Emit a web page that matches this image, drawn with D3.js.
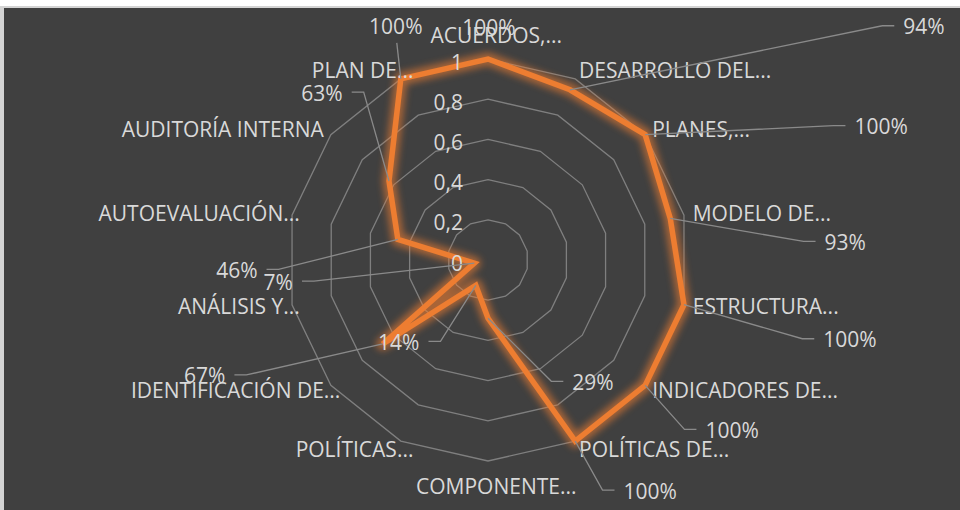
<!DOCTYPE html>
<html>
<head>
<meta charset="utf-8">
<script src="https://cdn.jsdelivr.net/npm/d3@7"></script>
<style>
body { margin: 0; background: #fff; }
svg { display: block; font-family: "Open Sans", sans-serif; }
</style>
</head>
<body>
<svg id="chart"></svg>
<script>
const categories = ["ACUERDOS,...", "DESARROLLO DEL...", "PLANES,...", "MODELO DE...", "ESTRUCTURA...",
    "INDICADORES DE...", "POLÍTICAS DE...", "COMPONENTE...", "POLÍTICAS...", "IDENTIFICACIÓN DE...",
    "ANÁLISIS Y...", "AUTOEVALUACIÓN...", "AUDITORÍA INTERNA", "PLAN DE..."];
const values = [1, 0.94, 1, 0.93, 1, 1, 1, 0.29, 0.14, 0.67, 0.07, 0.46, 0.63, 1];
const ticks = [0, 0.2, 0.4, 0.6, 0.8, 1];
const tickLabels = ["0", "0,2", "0,4", "0,6", "0,8", "1"];

// data labels were dragged by hand in the original, so keep their offsets from the point
const labelOffsets = [
    {dx: 1, dy: -32, leader: "none"},
    {dx: 354, dy: -63, leader: "left"},
    {dx: 236, dy: -8, leader: "left"},
    {dx: 175, dy: 24, leader: "left"},
    {dx: 166, dy: 35, leader: "left"},
    {dx: 87, dy: 45, leader: "left"},
    {dx: 75, dy: 50, leader: "left"},
    {dx: 105, dy: 64, leader: "left"},
    {dx: -77, dy: 57, leader: "right"},
    {dx: -178, dy: 32, leader: "right"},
    {dx: -196, dy: 19, leader: "right"},
    {dx: -161, dy: 31, leader: "right"},
    {dx: -67, dy: -88, leader: "right"},
    {dx: -5, dy: -52, leader: "bottom"}
];

class RadarChart {
    constructor(_config, _data) {
        this.config = {
            parentElement: _config.parentElement,
            containerWidth: _config.containerWidth || 960,
            containerHeight: _config.containerHeight || 510,
            cx: _config.cx || 488,
            cy: _config.cy || 260,
            radius: _config.radius || 201,
            fontSize: _config.fontSize || 21
        }
        this.data = _data;
        this.initVis();
    }

    initVis() {
        let vis = this;

        vis.svg = d3.select(vis.config.parentElement)
            .attr('width', vis.config.containerWidth)
            .attr('height', vis.config.containerHeight);

        // frame like the pasted excel chart
        vis.svg.append('rect')
            .attr('x', 0).attr('y', 6)
            .attr('width', vis.config.containerWidth)
            .attr('height', vis.config.containerHeight - 6)
            .attr('fill', '#d4d4d4');
        vis.svg.append('rect')
            .attr('x', 4).attr('y', 8)
            .attr('width', vis.config.containerWidth - 4)
            .attr('height', vis.config.containerHeight - 8)
            .attr('fill', '#404040');

        const defs = vis.svg.append('defs');
        defs.append('filter')
            .attr('id', 'glow')
            .attr('x', '-20%').attr('y', '-20%')
            .attr('width', '140%').attr('height', '140%')
            .append('feGaussianBlur')
            .attr('stdDeviation', 3.5);

        vis.chart = vis.svg.append('g')
            .attr('transform', `translate(${vis.config.cx},${vis.config.cy})`);

        vis.rScale = d3.scaleLinear()
            .domain([0, 1])
            .range([0, vis.config.radius]);

        vis.angle = i => i * 2 * Math.PI / vis.data.categories.length;

        vis.gridG = vis.chart.append('g').attr('class', 'grid');
        vis.seriesG = vis.chart.append('g').attr('class', 'series');
        vis.tickG = vis.chart.append('g').attr('class', 'ticks');
        vis.catG = vis.chart.append('g').attr('class', 'categories');
        vis.labelG = vis.chart.append('g').attr('class', 'data-labels');

        vis.updateVis();
    }

    updateVis() {
        let vis = this;
        vis.points = vis.data.values.map((v, i) => ({
            x: Math.sin(vis.angle(i)) * vis.rScale(v),
            y: -Math.cos(vis.angle(i)) * vis.rScale(v),
            v: v
        }));
        vis.renderVis();
    }

    renderVis() {
        let vis = this;
        const fs = vis.config.fontSize;
        const textColor = '#d9d9d9';

        // rings
        const ring = t => d3.lineRadial()
            .angle((d, i) => vis.angle(i))
            .radius(() => vis.rScale(t))
            .curve(d3.curveLinearClosed)(vis.data.categories);

        vis.gridG.selectAll('path')
            .data(ticks.filter(t => t > 0))
            .join('path')
            .attr('d', d => ring(d))
            .attr('fill', 'none')
            .attr('stroke', '#7f7f7f')
            .attr('stroke-width', 1.3);

        vis.tickG.selectAll('text')
            .data(ticks)
            .join('text')
            .attr('x', -25)
            .attr('y', d => -vis.rScale(d) + 10.5)
            .attr('text-anchor', 'end')
            .attr('font-size', fs)
            .attr('fill', textColor)
            .text((d, i) => tickLabels[i]);

        // category labels, the "..." hangs past the anchor like in excel
        const labelR = vis.config.radius + 9;
        vis.data.categories.forEach((name, i) => {
            const a = vis.angle(i);
            const s = Math.sin(a), c = Math.cos(a);
            const px = s * labelR, py = -c * labelR;
            let anchor, by;
            if (Math.abs(s) < 0.05) {
                anchor = 'middle';
                by = c > 0 ? py - 7 : py + 24;
            } else {
                anchor = s > 0 ? 'start' : 'end';
                by = py + 7.5;
            }
            const hasDots = name.endsWith('...');
            const main = (hasDots && anchor !== 'start') ? name.slice(0, -3) : name;

            const t = vis.catG.append('text')
                .attr('x', px)
                .attr('y', by)
                .attr('text-anchor', anchor)
                .attr('font-size', fs)
                .attr('fill', textColor)
                .text(main);

            if (hasDots && anchor !== 'start') {
                const w = t.node().getComputedTextLength();
                vis.catG.append('text')
                    .attr('x', anchor === 'middle' ? px + w / 2 : px)
                    .attr('y', by)
                    .attr('font-size', fs)
                    .attr('fill', textColor)
                    .text('...');
            }
        });

        // series line with soft glow
        const line = d3.line()
            .x(d => d.x)
            .y(d => d.y)
            .curve(d3.curveLinearClosed);

        vis.seriesG.append('path')
            .attr('d', line(vis.points))
            .attr('fill', 'none')
            .attr('stroke', '#ED7D31')
            .attr('stroke-width', 13)
            .attr('stroke-linejoin', 'round')
            .attr('opacity', 0.6)
            .attr('filter', 'url(#glow)');

        vis.seriesG.append('path')
            .attr('d', line(vis.points))
            .attr('fill', 'none')
            .attr('stroke', '#ED7D31')
            .attr('stroke-width', 5.5)
            .attr('stroke-linejoin', 'miter');

        // data labels + leader lines
        const fmt = d3.format('.0%');
        vis.points.forEach((p, i) => {
            const off = labelOffsets[i];
            const lx = p.x + off.dx, ly = p.y + off.dy;
            const t = vis.labelG.append('text')
                .attr('x', lx)
                .attr('y', ly + 7.5)
                .attr('text-anchor', 'middle')
                .attr('font-size', fs)
                .attr('fill', textColor)
                .text(fmt(p.v));
            const w = t.node().getComputedTextLength();

            let d = null;
            if (off.leader === 'left') {
                const x0 = lx - w / 2 - 9;
                d = `M${x0},${ly - 1}H${x0 - 12}L${p.x},${p.y}`;
            } else if (off.leader === 'right') {
                const x0 = lx + w / 2 + 9;
                d = `M${x0},${ly - 1}H${x0 + 12}L${p.x},${p.y}`;
            } else if (off.leader === 'bottom') {
                d = `M${lx + 1},${ly + 16}L${p.x},${p.y}`;
            }
            if (d) {
                vis.labelG.append('path')
                    .attr('d', d)
                    .attr('fill', 'none')
                    .attr('stroke', '#8a8a8a')
                    .attr('stroke-width', 1.3);
            }
        });
    }
}

const radar = new RadarChart({parentElement: '#chart'}, {categories: categories, values: values});
</script>
</body>
</html>
